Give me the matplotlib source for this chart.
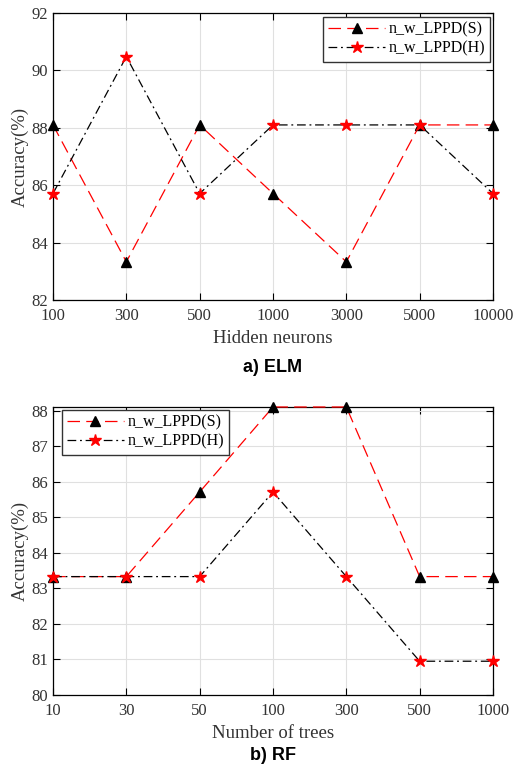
import matplotlib
matplotlib.use("Agg")
import matplotlib.pyplot as plt

elm_labels = ["100", "300", "500", "1000", "3000", "5000", "10000"]
elm_S = [88.10, 83.33, 88.10, 85.71, 83.33, 88.10, 88.10]
elm_H = [85.71, 90.48, 85.71, 88.10, 88.10, 88.10, 85.71]

rf_labels = ["10", "30", "50", "100", "300", "500", "1000"]
rf_S = [83.33, 83.33, 85.71, 88.10, 88.10, 83.33, 83.33]
rf_H = [83.33, 83.33, 83.33, 85.71, 83.33, 80.95, 80.95]

series_names = ["n_w_LPPD(S)", "n_w_LPPD(H)"]

plt.rcParams['font.family'] = ['Liberation Serif', 'DejaVu Serif']
W, H = 515, 766
fig = plt.figure(figsize=(W / 100, H / 100), dpi=100)

def make_ax(rect, labels, s, h, ylim, yticks, xlabel, title, title_y, leg_loc, leg_anchor):
    ax = fig.add_axes(rect)
    x = list(range(len(labels)))
    ax.plot(x, s, color='red', linestyle=(0, (10, 5)), linewidth=0.9,
            marker='^', markersize=7.5, markerfacecolor='black', markeredgecolor='black',
            label=series_names[0], zorder=3, clip_on=False)
    ax.plot(x, h, color='black', linestyle=(0, (7, 3, 1.5, 3)), linewidth=0.9,
            marker='*', markersize=9, markerfacecolor='red', markeredgecolor='red',
            label=series_names[1], zorder=4, clip_on=False)
    ax.set_xlim(0, len(labels) - 1)
    ax.set_ylim(*ylim)
    ax.set_xticks(x)
    ax.set_xticklabels(labels)
    ax.set_yticks(yticks)
    ax.grid(True, color='#e0e0e0', linewidth=0.8)
    ax.set_axisbelow(True)
    ax.tick_params(direction='in', top=True, right=True, labelsize=12, length=5, width=0.8)
    ax.tick_params(axis='x', pad=6)
    for sp in ax.spines.values():
        sp.set_linewidth(0.9)
    ax.set_xlabel(xlabel, fontsize=13.5, color='#333333', labelpad=4)
    ax.set_ylabel("Accuracy(%)", fontsize=13.5, color='#333333', labelpad=2)
    for lbl in ax.get_xticklabels() + ax.get_yticklabels():
        lbl.set_color('#333333')
    leg = ax.legend(loc=leg_loc, bbox_to_anchor=leg_anchor, fontsize=11.5, fancybox=False,
                    edgecolor='#333333', framealpha=1, handlelength=3.6, borderpad=0.3,
                    labelspacing=0.2, handletextpad=0.2, borderaxespad=0.0)
    leg.get_frame().set_linewidth(1.0)
    fig.text(0.5 * (rect[0] * 2 + rect[2]), title_y, title, ha='center', va='center',
             fontsize=13, fontweight='bold', family='Liberation Sans')
    return ax

# top axes: left 53, right 493, top 13, bottom 300 (pixels)
make_ax([53 / W, 1 - 300 / H, 440 / W, 287 / H], elm_labels, elm_S, elm_H,
        (82, 92), [82, 84, 86, 88, 90, 92], "Hidden neurons", "a) ELM", 1 - 368 / H,
        'upper right', (0.993, 0.987))
# bottom axes: top 407, bottom 695
make_ax([53 / W, 1 - 695 / H, 440 / W, 288 / H], rf_labels, rf_S, rf_H,
        (80, 88.1), [80, 81, 82, 83, 84, 85, 86, 87, 88], "Number of trees", "b) RF", 1 - 755 / H,
        'upper left', (0.02, 0.99))

fig.savefig("out.png", dpi=100)
